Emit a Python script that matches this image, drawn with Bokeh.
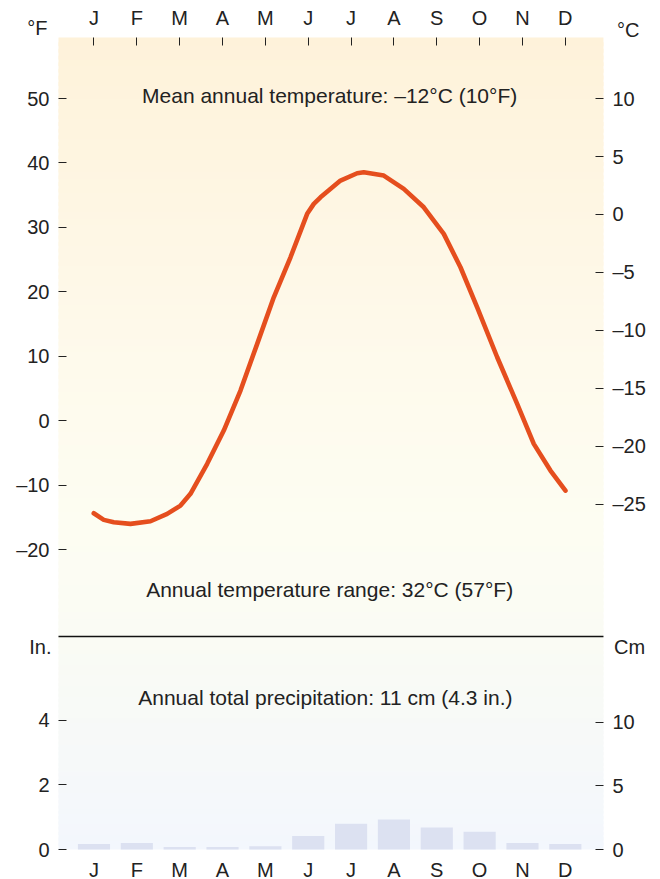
import numpy as np
from bokeh.plotting import figure
from bokeh.models import Range1d, LinearAxis, FixedTicker, Label
from bokeh.embed import file_html
from bokeh.resources import INLINE

# ---------------- data ----------------
months = ["J", "F", "M", "A", "M", "J", "J", "A", "S", "O", "N", "D"]
month_pos = list(range(12))

# monthly precipitation (inches)
precip_in = [0.17, 0.20, 0.08, 0.08, 0.10, 0.42, 0.80, 0.93, 0.68, 0.55, 0.20, 0.17]

# temperature curve: position in months (J=0) and degrees F
temp_pos = [-0.005, 0.229, 0.462, 0.852, 1.319, 1.708, 2.019, 2.252, 2.642, 3.029,
            3.419, 3.809, 4.196, 4.586, 4.975, 5.130, 5.286, 5.753, 6.142, 6.296, 6.763,
            7.230, 7.697, 8.163, 8.553, 8.943, 9.410, 9.876, 10.264, 10.653, 11.003]
temp_f = [-14.37, -15.40, -15.77, -16.02, -15.61, -14.47, -13.18, -11.36, -6.70, -1.54,
          4.67, 11.92, 19.15, 25.36, 32.10, 33.65, 34.67, 37.27, 38.40, 38.55, 38.04,
          35.98, 33.12, 28.99, 23.81, 17.60, 9.84, 2.61, -3.60, -7.74, -10.85]

f_ticks = [-20, -10, 0, 10, 20, 30, 40, 50]
c_ticks = [-25, -20, -15, -10, -5, 0, 5, 10]
in_ticks = [0, 2, 4]
cm_ticks = [0, 5, 10]

title_mean = "Mean annual temperature: \u201312\u00b0C (10\u00b0F)"
title_range = "Annual temperature range: 32\u00b0C (57\u00b0F)"
title_precip = "Annual total precipitation: 11 cm (4.3 in.)"

# ---------------- style / geometry ----------------
FONT = "Liberation Sans"
TXT = "#222222"
LINE_COLOR = "#E54E1E"
BAR_COLOR = "#DCE1F1"

W, H = 660, 879
# panel extents in data units
X0, X1 = -0.828, 11.890          # month axis (J = 0)
F0, F1 = -33.5, 59.47            # temperature panel, deg F
IN0, IN1 = 0.0, 6.6              # precipitation panel, inches
PX_PER_MONTH = 42.85
PX_PER_F = 6.443
PX_PER_IN = 32.27
LEFT_PX, TOP_PX = 58, 37
TOP_FRAME_H = 599
BOT_FRAME_H = 213

# whole-canvas ranges so that labels outside the panels are inside the frame
XA = X0 - LEFT_PX / PX_PER_MONTH
XB = XA + W / PX_PER_MONTH
FA = F1 + TOP_PX / PX_PER_F
FB = FA - H / PX_PER_F
bottom_px = TOP_PX + TOP_FRAME_H + BOT_FRAME_H
IA = IN0 - (H - bottom_px) / PX_PER_IN
IB = IA + H / PX_PER_IN

# gradient stops: fraction from top of upper panel to bottom of lower panel
grad_pos = [0.0, 0.2, 0.4, 0.6, 0.74, 1.0]
grad_rgb = [(254, 242, 218), (254, 246, 227), (254, 250, 236), (253, 253, 242),
            (250, 251, 244), (243, 247, 253)]
TOTAL_H = TOP_FRAME_H + BOT_FRAME_H
frac_split = TOP_FRAME_H / TOTAL_H


def grad_color(frac):
    r = np.interp(frac, grad_pos, [c[0] for c in grad_rgb])
    g = np.interp(frac, grad_pos, [c[1] for c in grad_rgb])
    b = np.interp(frac, grad_pos, [c[2] for c in grad_rgb])
    return "#%02x%02x%02x" % (int(round(r)), int(round(g)), int(round(b)))


def neg_overrides(ticks):
    return {t: ("\u2013%d" % abs(t) if t < 0 else "%d" % t) for t in ticks}


def add_gradient(p, y0, y1, frac0, frac1, n, range_name="default"):
    edges = np.linspace(y0, y1, n + 1)
    fr = np.linspace(frac0, frac1, n + 1)
    step = (y1 - y0) / n
    bottoms, tops, colors = [], [], []
    for i in range(n):
        bottoms.append(max(y0, edges[i] - step * 0.3))
        tops.append(min(y1, edges[i + 1] + step * 0.3))
        colors.append(grad_color((fr[i] + fr[i + 1]) / 2))
    p.quad(left=X0, right=X1, bottom=bottoms, top=tops, fill_color=colors,
           line_color=None, y_range_name=range_name)


def style_axis(ax, size="20px"):
    ax.axis_line_color = None
    ax.major_tick_in = 8
    ax.major_tick_out = 0
    ax.minor_tick_line_color = None
    ax.major_tick_line_color = TXT
    ax.major_label_text_font = FONT
    ax.major_label_text_font_size = size
    ax.major_label_text_color = TXT
    ax.major_label_standoff = 9


def text_label(p, txt, x, y, size="20px", range_name="default"):
    p.add_layout(Label(x=x, y=y, text=txt, text_align="center", text_baseline="middle",
                       text_font=FONT, text_font_size=size, text_color=TXT,
                       y_range_name=range_name))


p = figure(width=W, height=H, x_range=Range1d(XA, XB), y_range=Range1d(FB, FA),
           output_backend="svg", toolbar_location=None, x_axis_type=None,
           y_axis_type=None, min_border=0, min_border_left=0, min_border_right=0,
           min_border_top=0, min_border_bottom=0)
p.extra_y_ranges = {
    "c": Range1d((FB - 32) * 5 / 9, (FA - 32) * 5 / 9),
    "in": Range1d(IA, IB),
    "cm": Range1d(IA * 2.54, IB * 2.54),
}
p.grid.visible = False
p.outline_line_color = None
p.background_fill_color = "white"
p.border_fill_color = "white"

# backgrounds
add_gradient(p, F0, F1, frac_split, 0.0, 90)
add_gradient(p, IN0, IN1, 1.0, frac_split, 40, "in")

# precipitation bars
p.vbar(x=month_pos, top=precip_in, width=0.75, bottom=0, fill_color=BAR_COLOR,
       line_color=None, y_range_name="in")

# divider between panels
p.segment(x0=[X0], x1=[X1], y0=[F0], y1=[F0], line_color="#111111", line_width=1.5)

# temperature curve
p.line(temp_pos, temp_f, line_color=LINE_COLOR, line_width=4.6, line_cap="round",
       line_join="round")

# axes
month_over = {i: m for i, m in zip(month_pos, months)}

ax_top = LinearAxis(ticker=FixedTicker(ticks=month_pos), fixed_location=F1)
ax_top.major_label_overrides = month_over
style_axis(ax_top)
p.add_layout(ax_top, "above")

ax_bot = LinearAxis(ticker=FixedTicker(ticks=month_pos), fixed_location=IN0,
                    y_range_name="in")
ax_bot.major_label_overrides = month_over
style_axis(ax_bot)
ax_bot.major_tick_line_color = None
p.add_layout(ax_bot, "below")

ax_f = LinearAxis(ticker=FixedTicker(ticks=f_ticks), fixed_location=X0)
ax_f.major_label_overrides = neg_overrides(f_ticks)
style_axis(ax_f)
p.add_layout(ax_f, "left")

ax_c = LinearAxis(ticker=FixedTicker(ticks=c_ticks), fixed_location=X1, y_range_name="c")
ax_c.major_label_overrides = neg_overrides(c_ticks)
style_axis(ax_c)
p.add_layout(ax_c, "right")

ax_in = LinearAxis(ticker=FixedTicker(ticks=in_ticks), fixed_location=X0,
                   y_range_name="in")
style_axis(ax_in)
p.add_layout(ax_in, "left")

ax_cm = LinearAxis(ticker=FixedTicker(ticks=cm_ticks), fixed_location=X1,
                   y_range_name="cm")
style_axis(ax_cm)
p.add_layout(ax_cm, "right")

# texts
text_label(p, title_mean, 5.5, 50.5, "21px")
text_label(p, title_range, 5.5, -26.2, "21px")
text_label(p, title_precip, 5.4, 4.71, "21px", "in")
text_label(p, "\u00b0F", -1.32, 60.87)
text_label(p, "\u00b0C", 12.47, 60.56)
text_label(p, "In.", -1.25, 6.26, range_name="in")
text_label(p, "Cm", 12.5, 6.26, range_name="in")

open("out.html", "w").write(file_html(p, INLINE))
